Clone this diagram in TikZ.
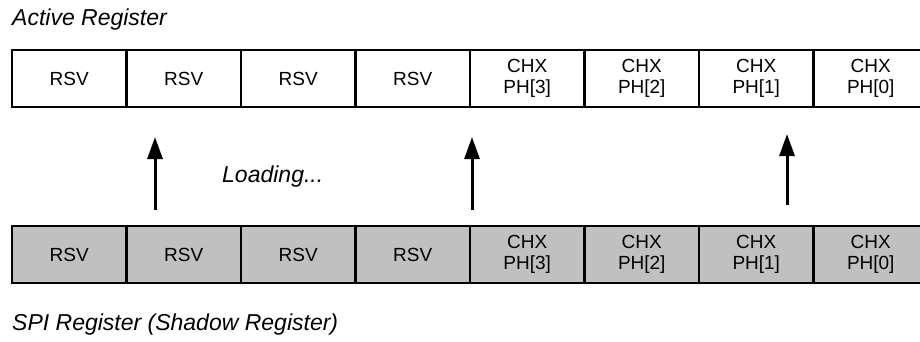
\documentclass[tikz,border=0pt]{standalone}
\usepackage{fontspec}
\setmainfont{Liberation Sans}
\usetikzlibrary{arrows.meta, positioning, calc}

\begin{document}
\begin{tikzpicture}[x=1pt, y=-1pt,
  cell/.style={rectangle, draw=black, line width=2.5pt, fill=white,
               minimum width=114.5pt, minimum height=57pt, inner sep=0pt,
               align=center, font=\fontsize{19}{21.5}\selectfont},
  shadow/.style={cell, fill=shadowgray},
  title/.style={anchor=base west, inner sep=0pt, font=\fontsize{23}{28}\selectfont\itshape},
  arr/.style={-{Triangle[length=22pt, width=15pt]}, line width=3pt}
]
  \definecolor{shadowgray}{RGB}{192,192,192}
  \useasboundingbox (0,0) rectangle (920,341);

  \node[title] (active) at (12,25) {Active Register};

  % both registers, same eight fields
  \foreach \t [count=\i] in {RSV,RSV,RSV,RSV,CHX\\PH[3],CHX\\PH[2],CHX\\PH[1],CHX\\PH[0]}{
    \node[cell] (a\i) at ({12+114.5*(\i-0.5)},78.5) {\t};
    \node[shadow] (s\i) at ({12+114.5*(\i-0.5)},254.5) {\t};
  }

  \node[title] (load) at (222,182) {Loading...};
  \node[title] (spi) at (12,330) {SPI Register (Shadow Register)};

  \coordinate (f1) at (155,210);  \coordinate (h1) at (155,137);
  \coordinate (f2) at (472,210);  \coordinate (h2) at (472,137);
  \coordinate (f3) at (787,205);  \coordinate (h3) at (787,134);

  \foreach \k in {1,2,3}{
    \draw[arr] (f\k) -- (h\k);
  }
\end{tikzpicture}
\end{document}
